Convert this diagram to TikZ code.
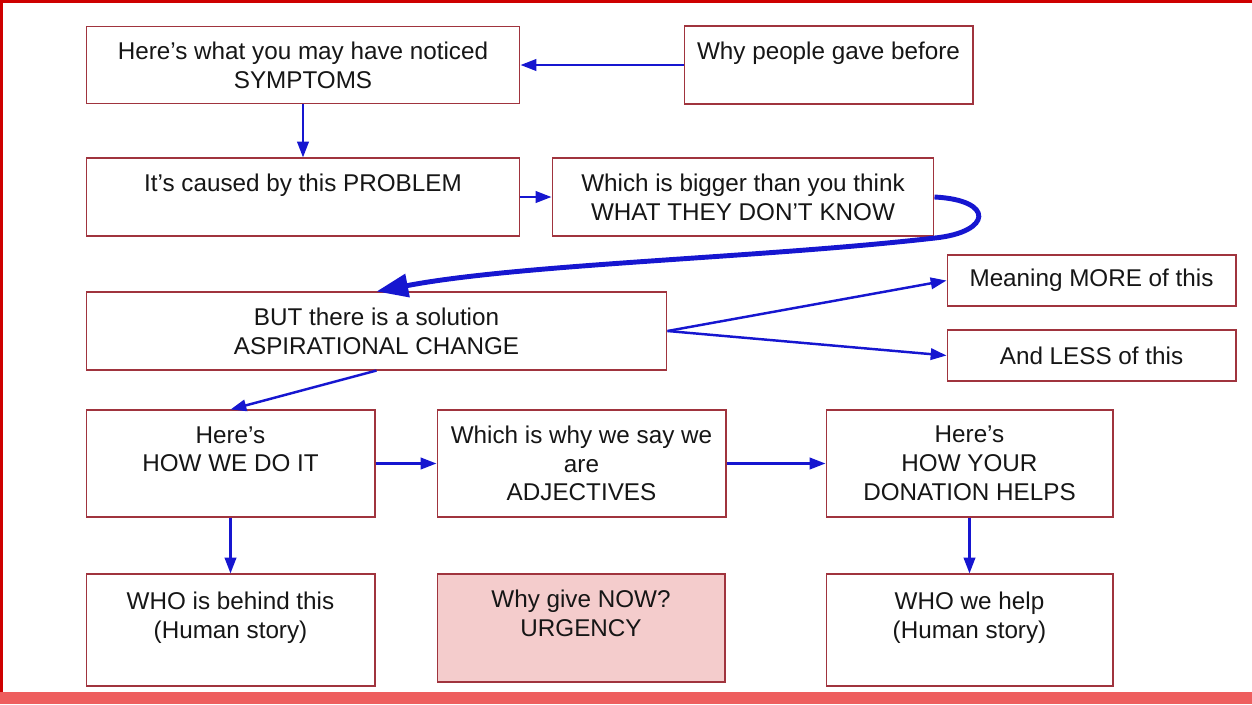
\documentclass[tikz,border=0pt]{standalone}
\usepackage{fontspec}
\setmainfont{Liberation Sans}
\usetikzlibrary{arrows.meta}

\definecolor{boxred}{RGB}{160,52,62}
\definecolor{flowblue}{RGB}{22,22,208}
\definecolor{framered}{RGB}{206,0,0}
\definecolor{barred}{RGB}{238,94,94}
\definecolor{urgentpink}{RGB}{244,204,204}
\definecolor{ink}{RGB}{22,22,22}

\tikzset{
  blk/.style={draw=boxred, line width=0.6pt, fill=white, inner sep=0pt, align=center,
    text=ink, font=\fontsize{13.8}{16.4}\selectfont},
  tallblk/.style={blk, execute at begin node={\rule{0pt}{15pt}}},
  flow/.style={draw=flowblue, line width=1.4pt, -{Triangle[length=9pt,width=6.5pt]}},
  bigflow/.style={draw=flowblue, line width=2.8pt, -{Triangle[length=18pt,width=13pt]}},
}

\begin{document}
\begin{tikzpicture}[x=0.02cm, y=-0.02cm]
                    \useasboundingbox (0,0) rectangle (1252,704);
                    % Frame and footer bar:
                    \fill[framered] (0,0) rectangle (1252,3);
                    \fill[framered] (0,0) rectangle (3,704);
                    \fill[barred] (0,692) rectangle (1252,704);
                    % Boxes:
                    \node[tallblk, minimum width=8.68cm, minimum height=1.54cm] (sympt) at (303,65) {Here’s what you may have noticed\\SYMPTOMS};
                    \node[tallblk, minimum width=5.78cm, minimum height=1.56cm] (before) at (828.5,65) {Why people gave before\\\mbox{}};
                    \node[tallblk, minimum width=8.68cm, minimum height=1.56cm] (problem) at (303,197) {It’s caused by this PROBLEM\\\mbox{}};
                    \node[tallblk, minimum width=7.64cm, minimum height=1.56cm] (bigger) at (743,197) {Which is bigger than you think\\WHAT THEY DON’T KNOW};
                    \node[tallblk, minimum width=11.62cm, minimum height=1.56cm] (solution) at (376.5,331) {BUT there is a solution\\ASPIRATIONAL CHANGE};
                    \node[blk, minimum width=5.78cm, minimum height=1.02cm] (more) at (1091.5,280.5) {Meaning MORE of this};
                    \node[blk, minimum width=5.78cm, minimum height=1.02cm] (less) at (1091.5,355.5) {And LESS of this};
                    \node[tallblk, minimum width=5.78cm, minimum height=2.14cm] (howdo) at (230.5,463.5) {Here’s\\HOW WE DO IT\\\mbox{}};
                    \node[tallblk, minimum width=5.78cm, minimum height=2.14cm] (adject) at (581.5,463.5) {Which is why we say we\\are\\ADJECTIVES};
                    \node[tallblk, minimum width=5.74cm, minimum height=2.14cm] (donate) at (969.5,463.5) {Here’s\\HOW YOUR\\DONATION HELPS};
                    \node[tallblk, minimum width=5.78cm, minimum height=2.24cm] (behind) at (230.5,630) {WHO is behind this\\(Human story)\\\mbox{}};
                    \node[tallblk, fill=urgentpink, minimum width=5.76cm, minimum height=2.16cm] (urgency) at (581,628) {Why give NOW?\\URGENCY\\\mbox{}};
                    \node[tallblk, minimum width=5.74cm, minimum height=2.24cm] (helped) at (969.5,630) {WHO we help\\(Human story)\\\mbox{}};
                    % Arrows:
                    \draw[flow] (before.west) -- (sympt.east);
                    \draw[flow] (sympt.south) -- (problem.north);
                    \draw[flow] (problem.east) -- (bigger.west);
                    \draw[bigflow] (bigger.east) .. controls (995,200) and (992,232) .. (935,238)
                        .. controls (760,258) and (520,264) .. (solution.north);
                    \draw[flow] (solution.east) -- (more.west);
                    \draw[flow] (solution.east) -- (less.west);
                    \draw[flow] (solution.south) -- (howdo.north);
                    \draw[flow] (howdo.east) -- (adject.west);
                    \draw[flow] (adject.east) -- (donate.west);
                    \draw[flow] (howdo.south) -- (behind.north);
                    \draw[flow] (donate.south) -- (helped.north);
                \end{tikzpicture}
\end{document}
